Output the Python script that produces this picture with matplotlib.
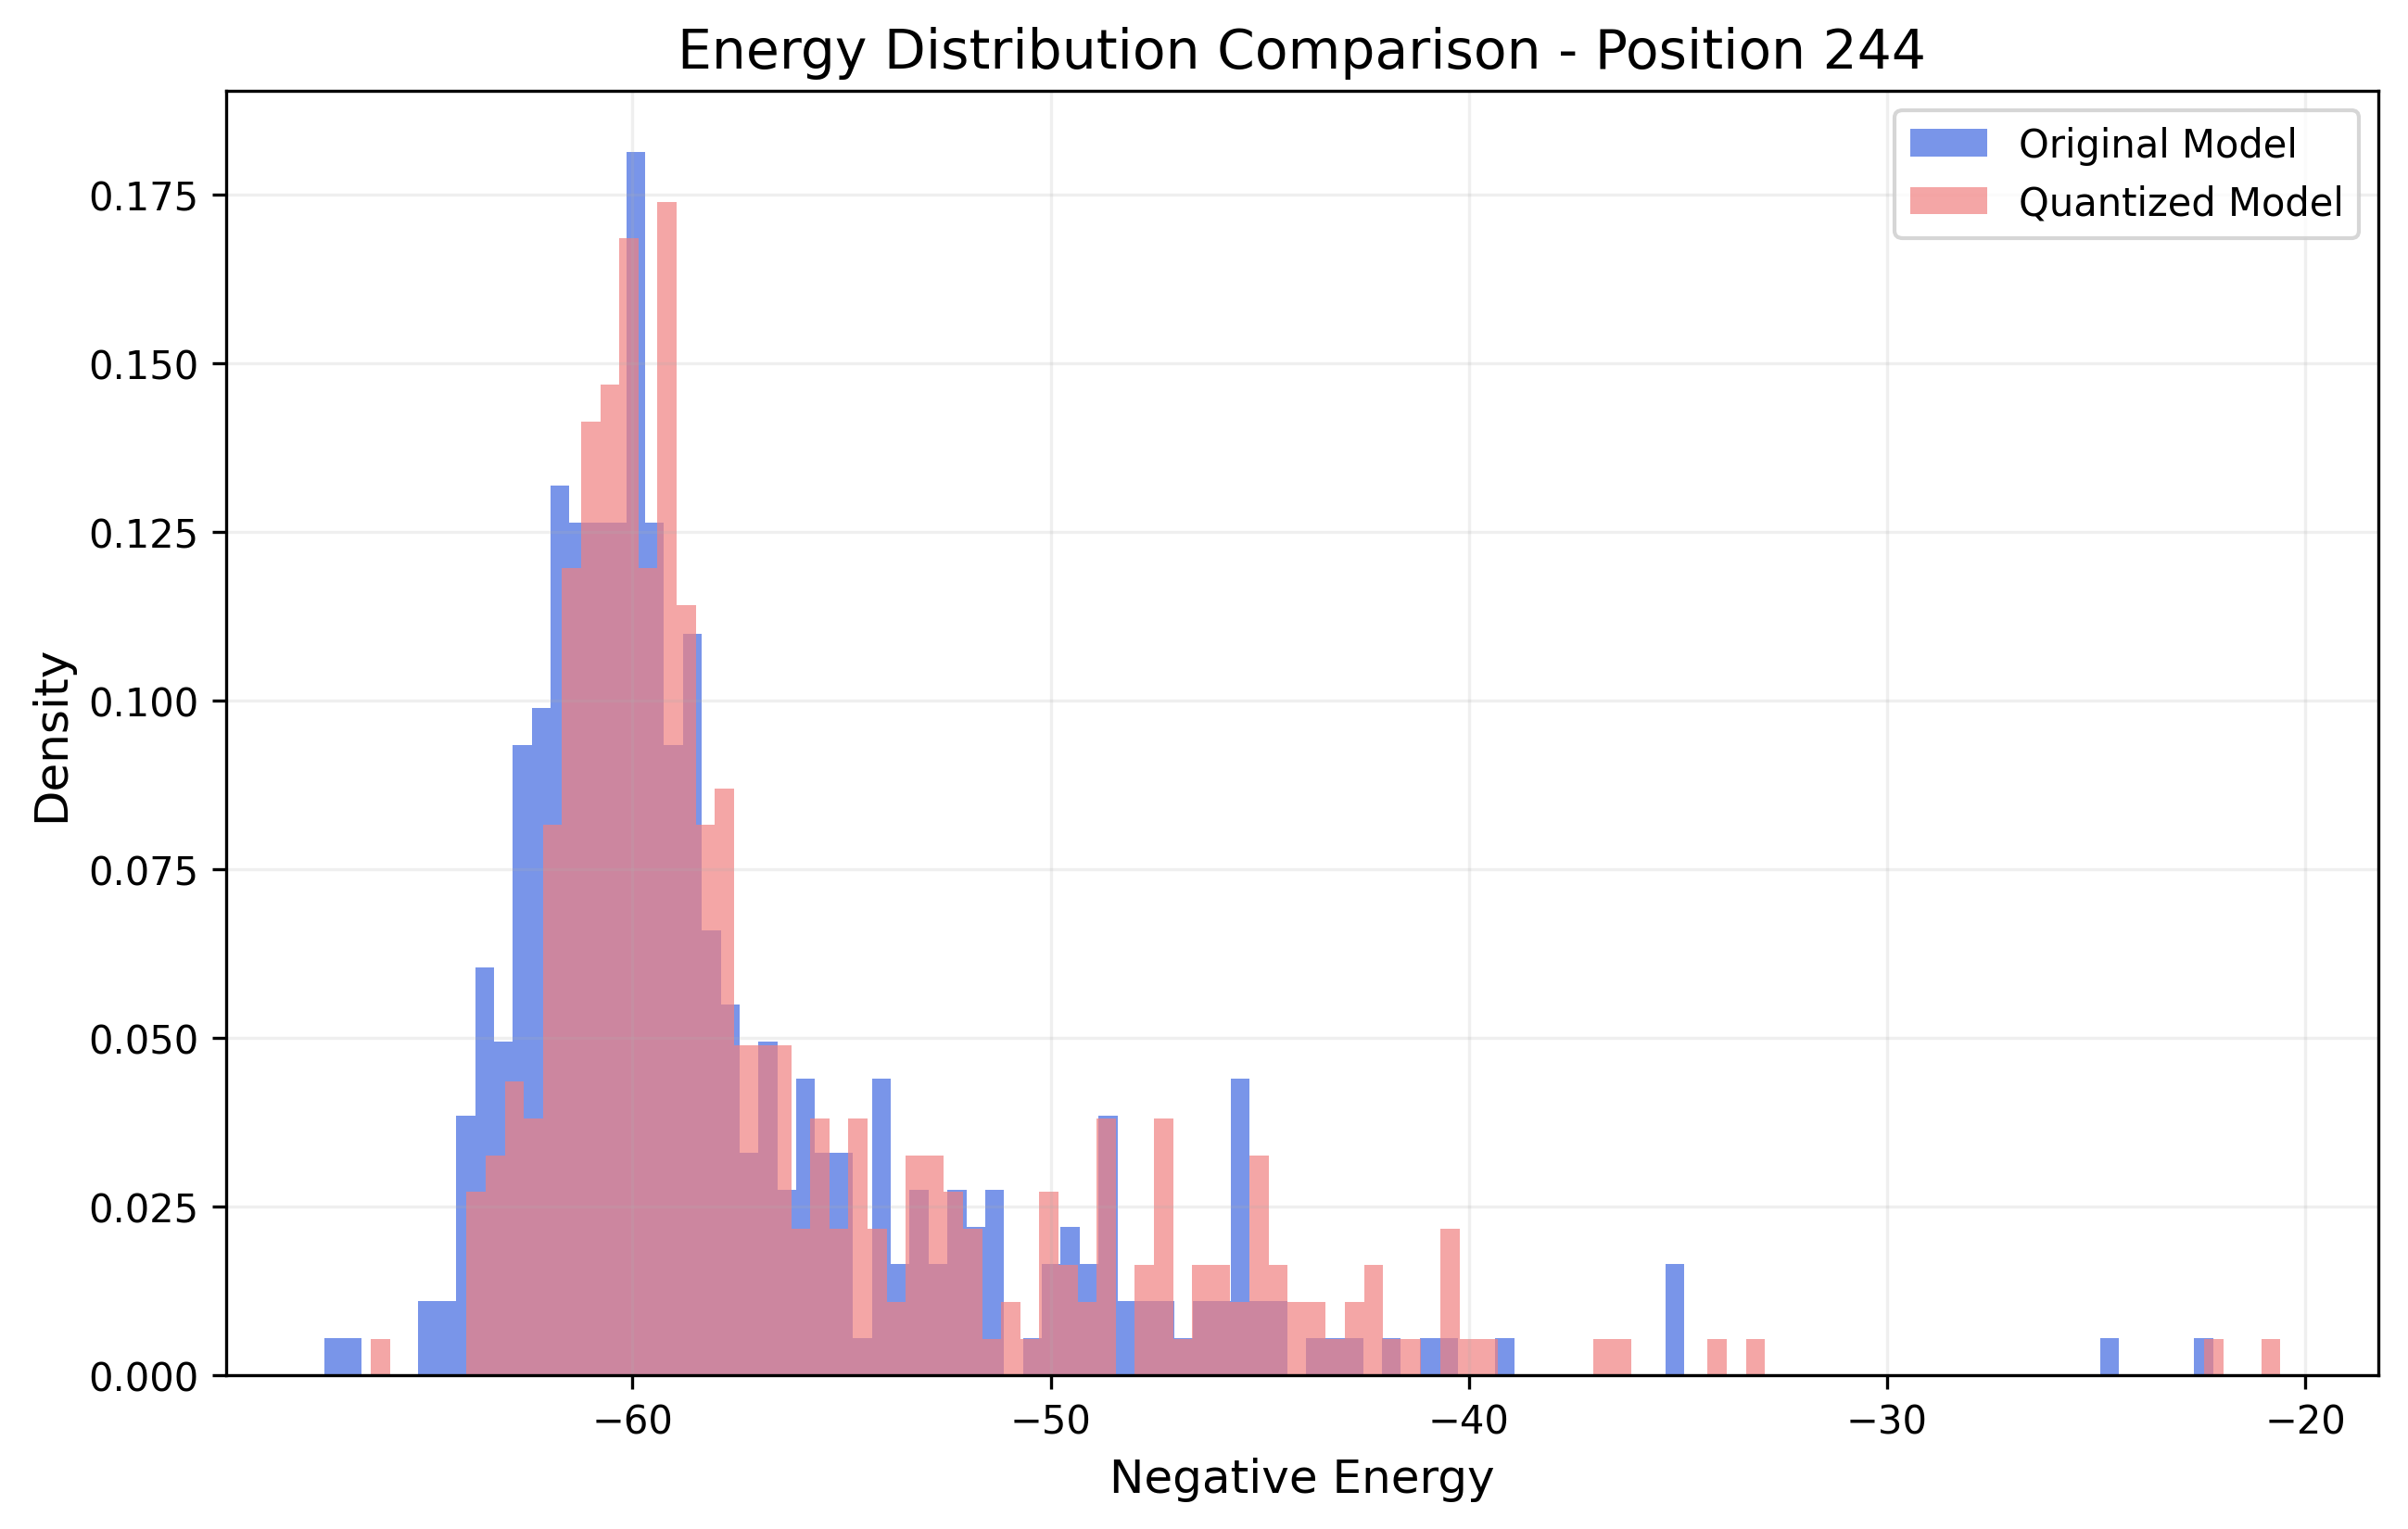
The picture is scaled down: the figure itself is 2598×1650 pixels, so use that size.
import numpy as np
import matplotlib
matplotlib.use("Agg")
import matplotlib.pyplot as plt

# counts per bin (100 bins each)
orig_counts = [1, 1, 0, 0, 0, 2, 2, 7, 11, 9,
               17, 18, 24, 23, 23, 23, 33, 23, 17, 20,
               12, 10, 6, 9, 5, 8, 6, 6, 1, 8,
               3, 5, 3, 5, 4, 5, 0, 1, 3, 4,
               3, 7, 2, 2, 2, 1, 2, 2, 8, 2,
               2, 0, 1, 1, 1, 0, 1, 0, 1, 1,
               0, 0, 1, 0, 0, 0, 0, 0, 0, 0,
               0, 3, 0, 0, 0, 0, 0, 0, 0, 0,
               0, 0, 0, 0, 0, 0, 0, 0, 0, 0,
               0, 0, 0, 0, 1, 0, 0, 0, 0, 1]
quant_counts = [1, 0, 0, 0, 0, 5, 6, 8, 7, 15,
                22, 26, 27, 31, 22, 32, 21, 15, 16, 9,
                9, 9, 4, 7, 4, 7, 4, 2, 6, 6,
                5, 4, 1, 2, 1, 5, 3, 2, 7, 0,
                3, 7, 1, 3, 3, 2, 6, 3, 2, 2,
                1, 2, 3, 1, 1, 0, 4, 1, 1, 0,
                0, 0, 0, 0, 1, 1, 0, 0, 0, 0,
                1, 0, 1, 0, 0, 0, 0, 0, 0, 0,
                0, 0, 0, 0, 0, 0, 0, 0, 0, 0,
                0, 0, 0, 0, 0, 0, 1, 0, 0, 1]
orig_range = (-67.38, -22.20)
quant_range = (-66.25, -20.59)

orig_edges = np.linspace(orig_range[0], orig_range[1], len(orig_counts) + 1)
quant_edges = np.linspace(quant_range[0], quant_range[1], len(quant_counts) + 1)
orig_centers = (orig_edges[:-1] + orig_edges[1:]) / 2
quant_centers = (quant_edges[:-1] + quant_edges[1:]) / 2

fig = plt.figure(figsize=(8.66, 5.503), dpi=300)
ax = fig.add_axes([0.0939, 0.1005, 0.8938, 0.8395])

ax.hist(orig_centers, bins=orig_edges, weights=orig_counts, density=True,
        alpha=0.7, color='royalblue', label='Original Model')
ax.hist(quant_centers, bins=quant_edges, weights=quant_counts, density=True,
        alpha=0.7, color='lightcoral', label='Quantized Model')

ax.set_title('Energy Distribution Comparison - Position 244', fontsize=14)
ax.set_xlabel('Negative Energy', fontsize=12)
ax.set_ylabel('Density', fontsize=12)
ax.legend()
ax.grid(alpha=0.2)

fig.savefig('out.png', dpi=300)
